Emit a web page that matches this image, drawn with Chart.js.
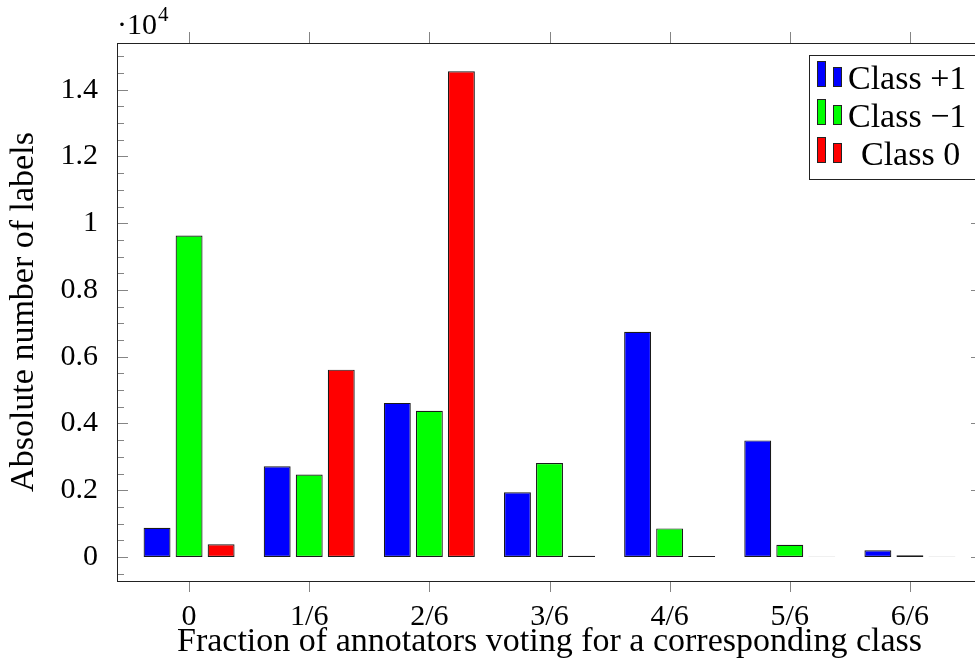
<!DOCTYPE html>
<html>
<head>
<meta charset="utf-8">
<script src="https://cdn.jsdelivr.net/npm/chart.js"></script>
<style>
    html, body { margin: 0; padding: 0; background: #fff; overflow: hidden; }
    #wrap { width: 990px; height: 662px; position: relative; }
</style>
</head>
<body>
<div id="wrap"><canvas id="votesChart"></canvas></div>
<script>
    // values
    var fractions = ['0', '1/6', '2/6', '3/6', '4/6', '5/6', '6/6'];
    var classPlus = [875, 2716, 4617, 1940, 6746, 3493, 199];
    var classMinus = [9632, 2468, 4378, 2816, 856, 368, 50];
    var classZero = [378, 5612, 14550, 40, 30, 10, 5];
    var yTicks = [0, 2000, 4000, 6000, 8000, 10000, 12000, 14000];

    var serif = '"Liberation Serif", "Times New Roman", serif';

    function points(arr) {
        return arr.map(function (v, i) { return { x: i, y: v }; });
    }

    function bars(label, arr, color) {
        return {
            label: label,
            data: points(arr),
            backgroundColor: color,
            borderColor: '#1a1a1a',
            borderWidth: 1.2,
            borderSkipped: false,
            categoryPercentage: 0.8,
            barPercentage: 0.84
        };
    }

    // pgfplots-like frame, ticks, legend and the 10^4 multiplier
    var frame = {
        id: 'frame',
        afterDraw: function (chart) {
            var ctx = chart.ctx, a = chart.chartArea;
            var xs = chart.scales.x, ys = chart.scales.y;
            ctx.save();
            ctx.lineWidth = 1;
            ctx.strokeStyle = '#858585';
            ctx.beginPath();
            for (var v = -500; v <= 15000; v += 500) {
                var py = Math.round(ys.getPixelForValue(v)) + 0.5;
                var len = v % 2000 === 0 ? 11 : 7;
                ctx.moveTo(a.left, py); ctx.lineTo(a.left + len, py);
                ctx.moveTo(a.right, py); ctx.lineTo(a.right - len, py);
            }
            fractions.forEach(function (f, i) {
                var px = Math.round(xs.getPixelForValue(i)) + 0.5;
                ctx.moveTo(px, a.top); ctx.lineTo(px, a.top - 11);
                ctx.moveTo(px, a.bottom); ctx.lineTo(px, a.bottom + 11);
            });
            ctx.stroke();

            ctx.strokeStyle = '#222';
            ctx.strokeRect(Math.round(a.left) + 0.5, Math.round(a.top) + 0.5,
                Math.round(a.right - a.left), Math.round(a.bottom - a.top));

            // legend
            ctx.fillStyle = '#fff';
            ctx.fillRect(809.5, 55.5, 168, 124);
            ctx.strokeRect(809.5, 55.5, 168, 124);
            ctx.font = '34px ' + serif;
            ctx.textBaseline = 'alphabetic';
            chart.data.datasets.forEach(function (ds, i) {
                var y0 = 61 + 38 * i;
                ctx.fillStyle = ds.backgroundColor;
                ctx.fillRect(817.5, y0 + 0.5, 8, 25);
                ctx.strokeRect(817.5, y0 + 0.5, 8, 25);
                ctx.fillRect(833.5, y0 + 6.5, 8, 19);
                ctx.strokeRect(833.5, y0 + 6.5, 8, 19);
                ctx.fillStyle = '#000';
                ctx.fillText(ds.label, i === 2 ? 861 : 848, y0 + 28);
            });

            // axis multiplier
            ctx.fillStyle = '#000';
            ctx.font = '30px ' + serif;
            ctx.fillText('\u00b710', 117, 34);
            ctx.font = '21px ' + serif;
            ctx.fillText('4', 158, 21);
            ctx.restore();
        }
    };

    document.addEventListener('DOMContentLoaded', function () {
        var ctx = document.getElementById('votesChart').getContext('2d');
        var votesChart = new Chart(ctx, {
            type: 'bar',
            data: {
                datasets: [
                    bars('Class +1', classPlus, '#0000ff'),
                    bars('Class \u22121', classMinus, '#00ff00'),
                    bars('Class 0', classZero, '#ff0000')
                ]
            },
            options: {
                responsive: true,
                maintainAspectRatio: false,
                animation: false,
                layout: { padding: { top: 43, right: 8, left: 0, bottom: 0 } },
                plugins: {
                    legend: { display: false },
                    tooltip: { enabled: false }
                },
                scales: {
                    x: {
                        type: 'linear',
                        offset: false,
                        min: -0.6,
                        max: 6.6,
                        afterBuildTicks: function (s) {
                            s.ticks = fractions.map(function (f, i) { return { value: i }; });
                        },
                        afterFit: function (s) { s.height = 81; },
                        grid: { display: false },
                        border: { display: false },
                        ticks: {
                            autoSkip: false,
                            maxRotation: 0,
                            padding: 10,
                            color: '#000',
                            font: { family: serif, size: 30 },
                            callback: function (v) { return fractions[v]; }
                        },
                        title: {
                            display: true,
                            text: 'Fraction of annotators voting for a corresponding class',
                            color: '#000',
                            font: { family: serif, size: 34 },
                            padding: { top: 0, bottom: 0 }
                        }
                    },
                    y: {
                        min: -720,
                        max: 15400,
                        afterBuildTicks: function (s) {
                            s.ticks = yTicks.map(function (v) { return { value: v }; });
                        },
                        afterFit: function (s) { s.width = 117; },
                        grid: { display: false },
                        border: { display: false },
                        ticks: {
                            autoSkip: false,
                            padding: 11,
                            color: '#000',
                            font: { family: serif, size: 30 },
                            callback: function (v) { return String(v / 10000); }
                        },
                        title: {
                            display: true,
                            text: 'Absolute number of labels',
                            color: '#000',
                            font: { family: serif, size: 34 },
                            padding: { top: 4, bottom: 0 }
                        }
                    }
                }
            },
            plugins: [frame]
        });
    });
</script>
</body>
</html>
